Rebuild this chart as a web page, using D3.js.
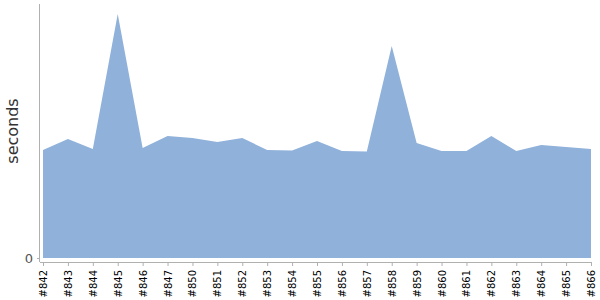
<!DOCTYPE html>
<html>
<head>
<meta charset="utf-8">
<script src="https://cdn.jsdelivr.net/npm/d3@7"></script>
<style>
  body { margin: 0; background: #fff; }
  svg { display: block; font-family: 'DejaVu Sans', Verdana, sans-serif; }
</style>
</head>
<body>
<div id="app"></div>
<script>
const builds = ['#842', '#843', '#844', '#845', '#846', '#847', '#850', '#851', '#852', '#853', '#854',
  '#855', '#856', '#857', '#858', '#859', '#860', '#861', '#862', '#863', '#864', '#865', '#866']
const seconds = [108, 119, 109, 244, 110, 122, 120, 116, 120, 108, 107.5,
  117, 107, 106.5, 212, 115, 107, 107, 122, 107, 113, 111, 109]
const yTicks = [0]

const config = {
  width: 600,
  height: 300,
  left: 40,
  top: 4,
  base: 258,
  axisY: 262,
  x0: 43,
  x1: 591,
  fill: '#8fb1da',
  axisColor: '#b0b0b0',
}

const draw = () => {
  const svg = d3.select('#app').append('svg')
    .attr('width', config.width)
    .attr('height', config.height)

  const x = d3.scalePoint().domain(builds).range([config.x0, config.x1])
  const y = d3.scaleLinear().domain([0, 254]).range([config.base, config.top])

  const area = d3.area()
    .x((d, i) => x(builds[i]))
    .y0(y(0))
    .y1((d) => y(d))

  svg.append('path')
    .attr('d', area(seconds))
    .attr('fill', config.fill)

  // x axis
  const gx = svg.append('g')
    .attr('transform', `translate(0,${config.axisY})`)
    .call(d3.axisBottom(x).tickSize(4).tickSizeOuter(0).tickPadding(6))
  gx.select('.domain').remove()
  gx.selectAll('.tick line').attr('stroke', config.axisColor)
  gx.selectAll('.tick text')
    .attr('transform', 'rotate(-90)')
    .attr('text-anchor', 'end')
    .attr('x', -8)
    .attr('y', 0)
    .attr('dy', '0.35em')
    .attr('fill', '#000')
    .style('font-size', '10px')
    .style('font-family', "'DejaVu Sans', Verdana, sans-serif")

  svg.append('line')
    .attr('x1', config.left).attr('x2', config.x1)
    .attr('y1', config.axisY + 0.5).attr('y2', config.axisY + 0.5)
    .attr('stroke', config.axisColor)

  // y axis
  const gy = svg.append('g')
    .attr('transform', `translate(${config.left},0)`)
    .call(d3.axisLeft(y).tickValues(yTicks).tickSize(3).tickPadding(4).tickFormat(d3.format('d')))
  gy.select('.domain').remove()
  gy.selectAll('.tick line').attr('stroke', config.axisColor)
  gy.selectAll('.tick text')
    .attr('fill', '#555')
    .style('font-size', '13px')
    .style('font-family', "'DejaVu Sans', Verdana, sans-serif")

  svg.append('line')
    .attr('x1', config.left - 0.5).attr('x2', config.left - 0.5)
    .attr('y1', config.top).attr('y2', config.axisY)
    .attr('stroke', config.axisColor)

  svg.append('text')
    .attr('transform', `translate(18,${(config.top + config.base) / 2}) rotate(-90)`)
    .attr('text-anchor', 'middle')
    .attr('fill', '#333')
    .style('font-size', '16px')
    .text('seconds')
}
draw()
</script>
</body>
</html>
